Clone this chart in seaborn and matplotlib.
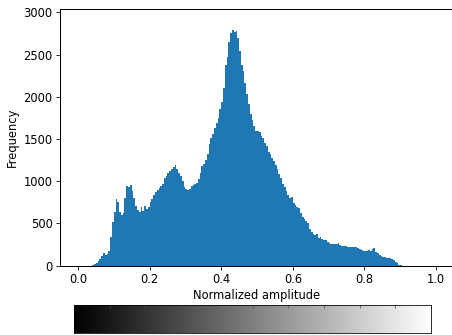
import numpy as np
import pandas as pd
import matplotlib
matplotlib.use("Agg")
import matplotlib.pyplot as plt
import seaborn as sns

# Histogram data (bin counts)
bin_start = 0.04
bin_width = 0.005
counts = [
    5, 20, 35, 55, 80, 120, 150, 130, 135, 175,
    340, 520, 640, 790, 760, 640, 600, 630, 800, 940,
    930, 960, 880, 800, 710, 660, 640, 700, 650, 710,
    670, 690, 760, 790, 840, 870, 900, 920, 940, 970,
    1040, 1060, 1100, 1120, 1150, 1170, 1190, 1150, 1100, 1060,
    1000, 930, 910, 900, 910, 940, 960, 970, 985, 1030,
    1100, 1180, 1210, 1250, 1320, 1440, 1510, 1560, 1630, 1690,
    1750, 1850, 1940, 2100, 2380, 2470, 2650, 2750, 2790, 2770,
    2780, 2700, 2540, 2380, 2300, 2160, 2030, 1920, 1800, 1730,
    1660, 1600, 1590, 1580, 1540, 1510, 1450, 1420, 1350, 1320,
    1270, 1240, 1190, 1150, 1090, 1040, 970, 930, 880, 840,
    800, 810, 740, 720, 700, 680, 620, 580, 550, 530,
    510, 440, 400, 370, 365, 375, 325, 335, 312, 304,
    300, 275, 265, 258, 262, 258, 257, 265, 250, 235,
    238, 228, 225, 222, 217, 217, 225, 222, 205, 195,
    186, 180, 178, 180, 185, 178, 192, 205, 166, 150,
    130, 120, 108, 100, 90, 87, 87, 80, 70, 47,
    28, 12, 4,
]
x_ticks = [0.0, 0.2, 0.4, 0.6, 0.8, 1.0]
y_ticks = [0, 500, 1000, 1500, 2000, 2500, 3000]
cbar_ticks = [0.0, 0.1, 0.2, 0.3, 0.4, 0.5, 0.6, 0.7, 0.8, 0.9, 1.0]

edges = bin_start + bin_width * np.arange(len(counts) + 1)
centers = (edges[:-1] + edges[1:]) / 2
df = pd.DataFrame({'amp': centers, 'count': counts})

W, H, DPI = 452, 335, 72
fig = plt.figure(figsize=(W / DPI, H / DPI), dpi=DPI)
plt.rcParams['font.family'] = ['DejaVu Sans']
FS = 11.5

ax = fig.add_axes([60 / W, (H - 265.7) / H, (454 - 60) / W, (265.7 - 9) / H])
sns.histplot(data=df, x='amp', weights='count', bins=list(edges), ax=ax,
             color='#1f77b4', alpha=1.0, linewidth=0, element='bars')
ax.set_xlim(-0.05, 1.05)
ax.set_ylim(0, 3040)
ax.set_xticks(x_ticks)
ax.set_yticks(y_ticks)
ax.set_xlabel('Normalized amplitude', fontsize=FS, labelpad=3)
ax.set_ylabel('Frequency', fontsize=FS, labelpad=4)
ax.tick_params(labelsize=FS, length=4)
for s in ax.spines.values():
    s.set_linewidth(1.0)

# Grayscale colorbar strip
cax = fig.add_axes([74 / W, 2.3 / H, (431 - 74) / W, 27.7 / H])
gradient = np.linspace(0, 1, 256).reshape(1, -1)
cax.imshow(gradient, aspect='auto', cmap='gray', extent=[0, 1, 0, 1])
cax.set_xticks(cbar_ticks)
cax.set_yticks([])
cax.tick_params(axis='x', top=True, bottom=False, direction='in', length=3,
                labeltop=False, labelbottom=False, color='#555555')

fig.savefig('out.png', dpi=DPI)
